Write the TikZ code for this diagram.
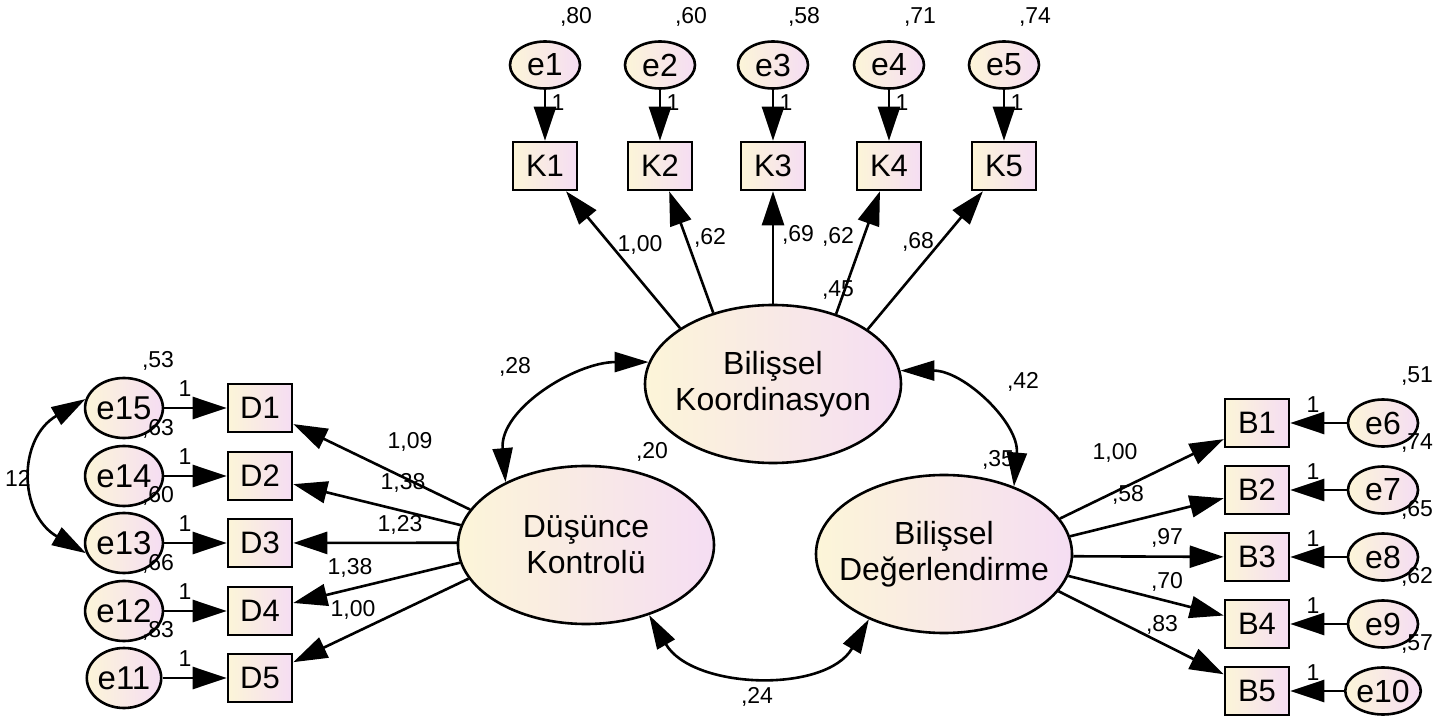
\documentclass[tikz,border=0pt]{standalone}
\usepackage{fontspec}
\setmainfont{Liberation Sans}
\usetikzlibrary{arrows.meta,shapes.geometric}
\definecolor{fillyellow}{HTML}{FCF5D8}
\definecolor{fillpink}{HTML}{F5DDF3}

\begin{document}
\begin{tikzpicture}[x=0.5pt,y=0.5pt,
  obs/.style={draw, line width=1.3pt, left color=fillyellow, right color=fillpink,
    minimum width=32pt, minimum height=24pt, inner sep=0pt, font=\fontsize{15.5}{15.5}\selectfont},
  err/.style={draw, ellipse, line width=1.3pt, left color=fillyellow, right color=fillpink,
    minimum width=35pt, minimum height=23.5pt, inner sep=0pt, font=\fontsize{16}{16}\selectfont},
  errl/.style={err, minimum width=34pt, minimum height=30pt, font=\fontsize{16.5}{16.5}\selectfont},
  lat/.style={draw, ellipse, line width=1.3pt, left color=fillyellow, right color=fillpink,
    minimum width=128pt, minimum height=79pt, inner xsep=-8pt, inner ysep=0pt, align=center,
    font=\fontsize{16}{18}\selectfont},
  num/.style={inner sep=0pt, font=\fontsize{11.5}{11.5}\selectfont},
  load/.style={line width=1.3pt, -{Triangle[length=17pt,width=11pt]}},
  cov/.style={line width=1.3pt, {Triangle[length=17pt,width=10pt]}-{Triangle[length=17pt,width=10pt]}}]
\useasboundingbox (0,0) rectangle (1447,719);

% latent factors
\node[lat] (bk) at (773,335) {Bilişsel\\Koordinasyon};
\node[lat] (dk) at (586,174) {Düşünce\\Kontrolü};
\node[lat] (bd) at (944,165) {Bilişsel\\Değerlendirme};
\node[num] (vbk) at (838,429) {,45};
\node[num] (vdk) at (652,267) {,20};
\node[num] (vbd) at (998,259) {,35};

% K items
\foreach \i/\x/\v in {1/545/80,2/660/60,3/773/58,4/889/71,5/1004/74}{
  \node[err] (e\i) at (\x,654) {e\i};
  \node[obs] (K\i) at (\x,553) {K\i};
  \draw[load] (e\i) -- (K\i);
  \node[num] (ve\i) at (\x+31,702) {,\v};
  \node[num] (fe\i) at (\x+13,616) {1};
}
\foreach \j/\a/\l/\x/\y in {1/149/{1,00}/640/474,2/130/{,62}/710/481,3/90/{,69}/798/484,
    4/48/{,62}/838/482,5/30/{,68}/918/477}{
  \draw[load] (bk.\a) -- (K\j);
  \node[num] (lk\j) at (\x,\y) {\l};
}

% D items
\foreach \i/\j/\y/\v in {15/1/311/53,14/2/243/63,13/3/176/60,12/4/108/66,11/5/41/83}{
  \node[errl] (e\i) at (124,\y) {e\i};
  \node[obs] (D\j) at (260,\y) {D\j};
  \draw[load] (e\i) -- (D\j);
  \node[num] (ve\i) at (158,\y+47) {,\v};
  \node[num] (fe\i) at (185,\y+19) {1};
}
\foreach \j/\a/\l/\x/\y in {1/163.5/{1,09}/410/277,2/171/{1,38}/403/236,3/179.5/{1,23}/400/194,
    4/188/{1,38}/350/151,5/196/{1,00}/353/109}{
  \draw[load] (dk.\a) -- (D\j);
  \node[num] (ld\j) at (\x,\y) {\l};
}

% B items
\foreach \i/\j/\y/\v in {6/1/296/51,7/2/229/74,8/3/162/65,9/4/95/62,10/5/28/57}{
  \node[err] (e\i) at (1383,\y) {e\i};
  \node[obs] (B\j) at (1257,\y) {B\j};
  \draw[load] (e\i) -- (B\j);
  \node[num] (ve\i) at (1417,\y+47) {,\v};
  \node[num] (fe\i) at (1313,\y+18) {1};
}
\foreach \j/\a/\l/\x/\y in {1/17/{1,00}/1115/266,2/8.4/{,58}/1128/224,3/-1/{,97}/1167/181,
    4/-10/{,70}/1167/137,5/-18.6/{,83}/1162/94}{
  \draw[load] (bd.\a) -- (B\j);
  \node[num] (lb\j) at (\x,\y) {\l};
}

% covariances
\draw[cov] (dk.142) to[out=95,in=180] (bk.170);
\draw[cov] (bk.6) to[out=0,in=85] (bd.44);
\draw[cov] (dk.-48) to[out=-60,in=-120] (bd.221);
\draw[cov] (e15.167) to[out=210,in=150,looseness=1.3] (e13.195);
\node[num] (c1) at (515,352) {,28};
\node[num] (c2) at (1023,337) {,42};
\node[num] (c3) at (757,22) {,24};
\node[num] (c4) at (18,241) {12};
\end{tikzpicture}
\end{document}
